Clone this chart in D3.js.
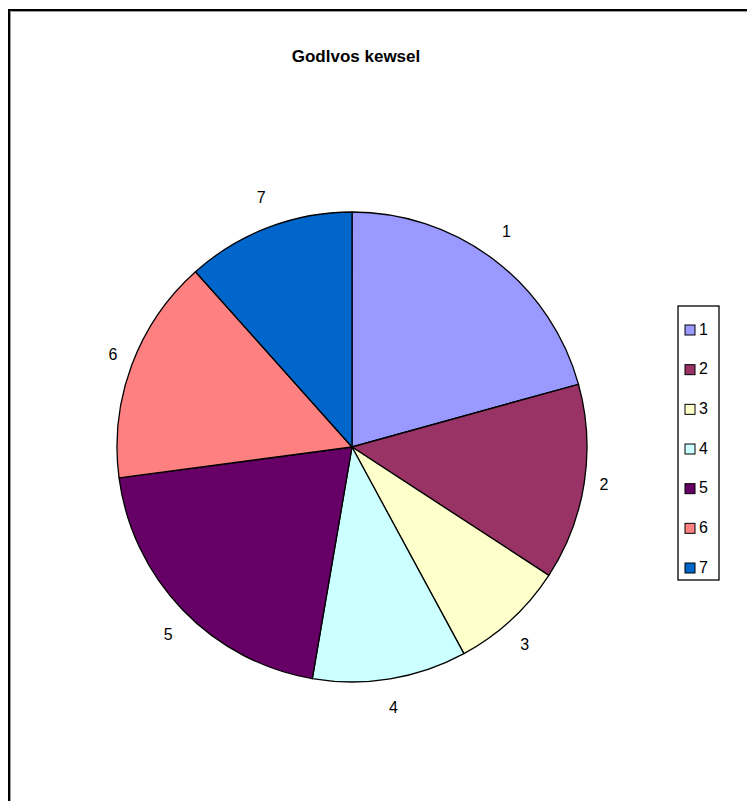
<!DOCTYPE html>
<html>
<head>
<meta charset="utf-8">
<script src="https://cdn.jsdelivr.net/npm/d3@7"></script>
<style>
  html, body { margin: 0; padding: 0; background: #fff; }
  svg { display: block; }
</style>
</head>
<body>
<svg id="chart" width="747" height="801"></svg>
<script>
// Slice categories, their shares and fills
const categories = ["1", "2", "3", "4", "5", "6", "7"];
const values = [20.7, 13.5, 7.9, 10.6, 20.2, 15.5, 11.6];
const colors = ["#9999FF", "#993366", "#FFFFCC", "#CCFFFF", "#660066", "#FF8080", "#0066CC"];
const title = "Godlvos kewsel";

const svg = d3.select("#chart");
const W = 747, H = 801;
const FONT = "Liberation Sans, Arial, sans-serif";

// Chart area frame (runs off the right and bottom edges)
svg.append("rect")
  .attr("x", 9).attr("y", 10)
  .attr("width", W + 20).attr("height", H + 20)
  .attr("fill", "#fff")
  .attr("stroke", "#000").attr("stroke-width", 2);
svg.append("path")
  .attr("d", `M10.5,${H + 5} V11.5 H${W + 5}`)
  .attr("fill", "none").attr("stroke", "#999").attr("stroke-width", 1);

// Title
svg.append("text")
  .attr("x", 356).attr("y", 58)
  .attr("text-anchor", "middle")
  .attr("dominant-baseline", "middle")
  .attr("font-family", FONT)
  .attr("font-weight", "bold")
  .attr("font-size", 17)
  .text(title);

// Pie
const cx = 352, cy = 447, R = 235;
const data = categories.map((c, i) => ({ cat: c, value: values[i], color: colors[i] }));
const pie = d3.pie().value(d => d.value).sort(null);
const arcs = pie(data);
const arc = d3.arc().innerRadius(0).outerRadius(R);

const g = svg.append("g").attr("transform", `translate(${cx},${cy})`);
g.selectAll("path.slice")
  .data(arcs)
  .join("path")
  .attr("class", "slice")
  .attr("d", arc)
  .attr("fill", d => d.data.color)
  .attr("stroke", "#000")
  .attr("stroke-width", 1.3)
  .attr("stroke-linejoin", "round");

// Category labels: placed just outside the rim along the mid-angle,
// then nudged outward by part of the text box so it clears the edge
const labelR = R + 14;
function labelPos(d) {
  const a = (d.startAngle + d.endAngle) / 2;
  const sx = Math.sin(a), sy = -Math.cos(a);
  const offX = 6 * sx;
  const offY = 16 * Math.sign(sy) * Math.min(1, Math.pow(Math.abs(sy) / 0.65, 2));
  return [labelR * sx + offX, labelR * sy + offY];
}
g.selectAll("text.label")
  .data(arcs)
  .join("text")
  .attr("class", "label")
  .attr("transform", d => `translate(${labelPos(d)})`)
  .attr("text-anchor", "middle")
  .attr("dominant-baseline", "middle")
  .attr("font-family", FONT)
  .attr("font-size", 16)
  .text(d => d.data.cat);

// Legend
const lx = 678, ly = 306, lw = 41, lh = 274;
const legend = svg.append("g");
legend.append("rect")
  .attr("x", lx).attr("y", ly).attr("width", lw).attr("height", lh)
  .attr("fill", "#fff").attr("stroke", "#000").attr("stroke-width", 1.3);

const itemY = d3.scalePoint().domain(categories).range([ly + 24, ly + lh - 12]);
const items = legend.selectAll("g.item")
  .data(data)
  .join("g")
  .attr("class", "item")
  .attr("transform", d => `translate(${lx + 7},${itemY(d.cat)})`);
items.append("rect")
  .attr("x", 0).attr("y", -5).attr("width", 10).attr("height", 10)
  .attr("fill", d => d.color).attr("stroke", "#000").attr("stroke-width", 1);
items.append("text")
  .attr("x", 14).attr("y", 0.5)
  .attr("dominant-baseline", "middle")
  .attr("font-family", FONT)
  .attr("font-size", 16)
  .text(d => d.cat);
</script>
</body>
</html>
